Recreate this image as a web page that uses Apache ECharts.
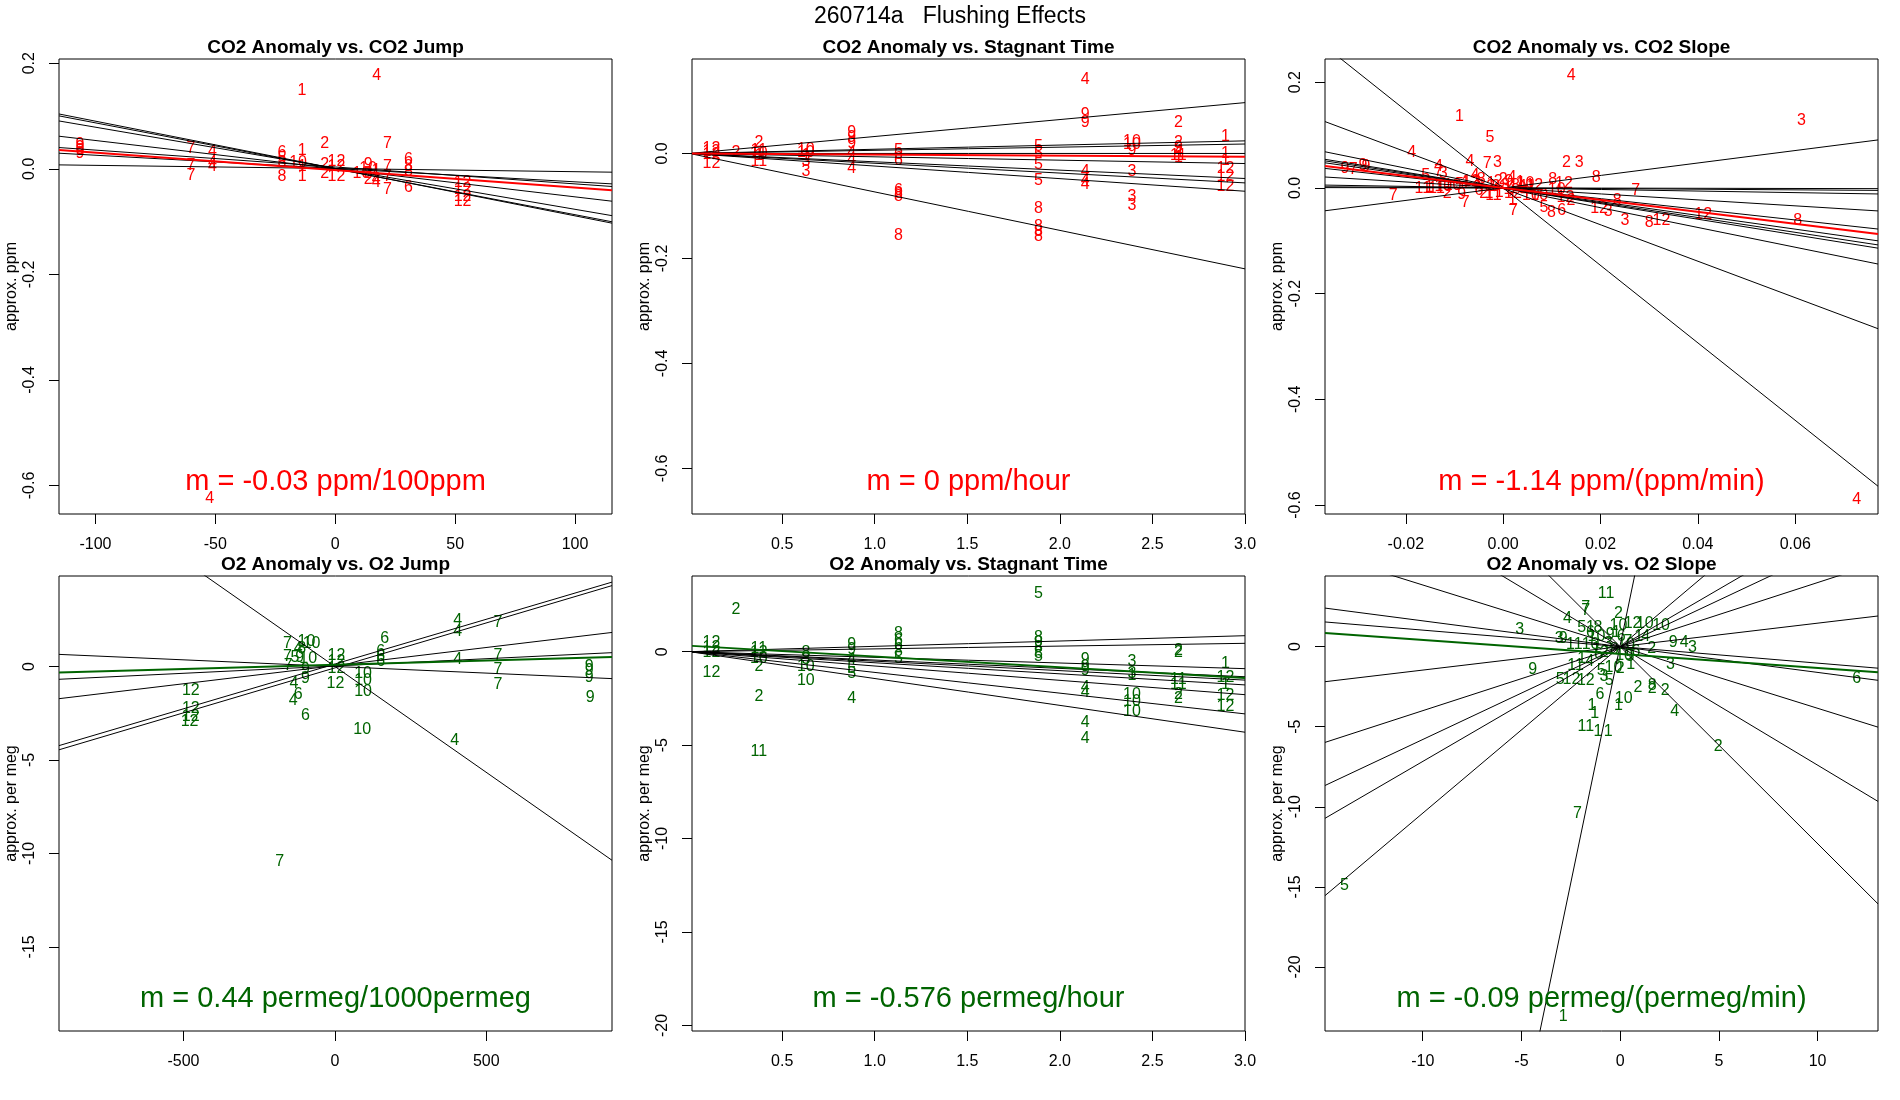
<!DOCTYPE html>
<html>
<head>
<meta charset="utf-8">
<script src="https://cdn.jsdelivr.net/npm/echarts@6/dist/echarts.min.js"></script>
<style>
  html, body { margin: 0; background: #fff; }
  #chart { width: 1900px; height: 1100px; }
</style>
</head>
<body>
<div id="chart"></div>
<script>
const FONT = '"Liberation Sans", Arial, Helvetica, sans-serif';
const RED = '#ff0000';
const GREEN = '#006400';

const mainTitle = '260714a   Flushing Effects';
const titles = ['CO2 Anomaly vs. CO2 Jump', 'CO2 Anomaly vs. Stagnant Time', 'CO2 Anomaly vs. CO2 Slope',
  'O2 Anomaly vs. O2 Jump', 'O2 Anomaly vs. Stagnant Time', 'O2 Anomaly vs. O2 Slope'];
const notes = ['m = -0.03 ppm/100ppm', 'm = 0 ppm/hour', 'm = -1.14 ppm/(ppm/min)',
  'm = 0.44 permeg/1000permeg', 'm = -0.576 permeg/hour', 'm = -0.09 permeg/(permeg/min)'];

// points: [x, anomaly, group]
const co2JumpPts = [
  [-106.5,0.045,9],[-106.5,0.040,9],[-106.5,0.034,9],[-106.5,0.028,9],
  [-60.2,0.039,7],[-60.2,0.006,7],[-60.2,-0.013,7],
  [-51.2,0.033,4],[-51.2,0.011,4],[-51.2,0.004,4],
  [-22.2,0.030,6],[-22.2,0.020,5],[-22.2,0.012,8],[-22.2,-0.015,8],
  [-13.9,0.148,1],[-13.8,0.035,1],[-15.5,0.011,10],[-13.8,0.005,1],[-13.8,-0.015,1],
  [-4.4,0.047,2],[-4.4,0.008,2],[-4.4,-0.010,2],
  [0.5,0.013,12],[0.5,0.004,12],[0.5,-0.015,12],
  [10.9,-0.010,10],[13.7,0.008,9],[13.7,0.000,10],[13.7,-0.010,8],[13.7,-0.020,2],
  [17.1,-0.003,1],[17.1,-0.020,4],[17.1,-0.027,4],
  [21.8,0.048,7],[21.8,0.004,7],[21.8,-0.015,7],[21.8,-0.040,7],
  [30.5,0.017,6],[30.5,0.005,8],[30.5,-0.005,8],[30.5,-0.035,6],
  [53.1,-0.027,12],[53.1,-0.040,12],[53.1,-0.052,12],[53.1,-0.063,12],
  [17.3,0.176,4],[-52.4,-0.624,4]
];
const co2StagPts = [
  [0.118,0.010,12],[0.118,0.004,12],[0.118,-0.002,12],[0.118,-0.020,12],
  [0.25,0.001,2],
  [0.374,0.020,2],[0.374,0.006,11],[0.374,0.000,10],[0.374,-0.005,1],[0.374,-0.016,11],
  [0.628,0.008,10],[0.628,0.002,10],[0.628,-0.005,1],[0.628,-0.015,3],[0.628,-0.035,3],
  [0.875,0.040,9],[0.875,0.030,9],[0.875,0.018,9],[0.875,0.002,4],[0.875,-0.012,4],[0.875,-0.028,4],
  [1.128,0.006,5],[1.128,-0.003,6],[1.128,-0.013,6],[1.128,-0.070,6],[1.128,-0.076,8],[1.128,-0.082,8],[1.128,-0.156,8],
  [1.885,0.013,5],[1.885,0.000,5],[1.885,-0.022,5],[1.885,-0.051,5],[1.885,-0.105,8],[1.885,-0.140,8],[1.885,-0.149,8],[1.885,-0.159,8],
  [2.137,0.141,4],[2.137,0.075,9],[2.137,0.058,9],[2.137,-0.035,4],[2.137,-0.051,4],[2.137,-0.060,4],
  [2.389,0.022,10],[2.389,0.016,10],[2.389,0.006,9],[2.389,-0.035,3],[2.389,-0.083,3],[2.389,-0.100,3],
  [2.64,0.058,2],[2.64,0.020,2],[2.64,0.012,9],[2.64,0.004,4],[2.64,-0.004,11],[2.64,-0.008,1],
  [2.894,0.033,1],[2.894,0.000,1],[2.894,-0.013,1],[2.894,-0.029,12],[2.894,-0.044,12],[2.894,-0.063,12]
];
const co2SlopePts = [
  [0.014,0.212,4],[-0.009,0.135,1],[0.0613,0.127,3],[-0.0027,0.095,5],[-0.0188,0.066,4],[0.0726,-0.589,4],
  [0.0605,-0.061,8],[0.0411,-0.051,12],
  [-0.0325,0.037,9],[-0.0308,0.035,7],[-0.0288,0.043,9],[-0.0282,0.040,9],
  [-0.0226,-0.015,7],
  [-0.0133,0.040,4],[-0.0133,0.031,7],[-0.0123,0.027,3],[-0.0159,0.023,5],
  [-0.0068,0.050,4],[-0.0058,0.024,4],[-0.0033,0.047,7],[-0.0012,0.048,3],
  [0.0130,0.048,2],[0.0156,0.048,3],[0.0191,0.020,8],[0.0272,-0.005,7],[0.0234,-0.023,8],
  [0.0197,-0.040,12],[0.0216,-0.045,3],[0.0250,-0.062,3],[0.0300,-0.066,8],[0.0325,-0.061,12],
  [0.0084,-0.038,5],[0.0099,-0.047,8],[0.0120,-0.042,6],[0.0021,-0.042,7],[0.0019,-0.023,1],
  [0.0139,-0.023,2],[0.0128,-0.018,12],
  [-0.0115,-0.010,2],[-0.0085,-0.012,9],[-0.0078,-0.027,7],
  [-0.0165,-0.001,11],[-0.0152,0.001,1],[-0.0137,-0.002,11],[-0.0123,0.002,10],[-0.0104,0.004,10],
  [-0.0090,0.006,5],[-0.0077,0.008,1],[-0.0066,0.012,12],
  [-0.0055,0.010,3],[-0.0050,-0.005,6],[-0.0045,0.015,8],[-0.0040,-0.010,2],[-0.0035,0.003,12],
  [-0.0029,-0.011,1],[-0.0025,0.008,1],[-0.0020,-0.015,11],[-0.0015,0.002,3],[-0.0010,0.012,2],
  [-0.0008,-0.008,1],[0.0000,0.016,2],[0.0005,0.005,8],[0.0010,-0.004,1],[0.0012,0.012,9],
  [0.0018,0.020,4],[0.0020,-0.010,12],[0.0025,0.004,8],[0.0030,-0.002,10],[0.0035,0.010,1],
  [0.0046,0.009,10],[0.0045,-0.006,4],[0.0050,0.002,11],[0.0057,-0.014,10],[0.0064,0.004,12],
  [0.0074,-0.014,10],[0.0102,0.016,8],[0.0110,-0.003,10],[0.0125,0.009,12]
];
const o2JumpPts = [
  [405.8,2.46,4],[405.8,1.86,4],[405.8,0.37,4],[396,-3.96,4],
  [538,2.36,7],[538,0.56,7],[538,-0.19,7],[538,-0.99,7],
  [839.5,0.0,9],[839.5,-0.22,9],[839.5,-0.6,9],[843,-1.68,9],
  [164.5,1.49,6],[151,0.78,6],[151,0.51,6],[151,0.24,6],
  [5,0.60,12],[5,0.24,12],[5,-0.11,12],[2,-0.92,12],
  [93,-0.38,10],[93,-0.74,10],[93,-1.36,10],[90,-3.39,10],
  [-475.7,-1.27,12],[-475.7,-2.26,12],[-476,-2.7,12],[-480,-2.97,12],
  [-182,-10.42,7],
  [-156.6,1.225,7],[-94,1.315,10],[-77,1.225,10],[-121,0.96,4],[-110,0.95,8],[-157,0.51,7],
  [-132,0.475,5],[-116,0.475,9],[-88,0.42,10],[-154,0.065,7],[-97,-0.17,9],[-97,-0.65,9],
  [-135,-0.92,4],[-121,-1.49,6],[-138,-1.81,4],[-97,-2.61,6]
];
const o2StagPts = [
  [0.251,2.25,2],[1.885,3.12,5],
  [0.118,0.48,12],[0.118,0.2,12],[0.118,-0.07,12],[0.118,-1.10,12],
  [0.374,0.15,11],[0.374,-0.05,12],[0.374,-0.35,10],[0.374,-0.82,2],[0.374,-2.40,2],[0.374,-5.37,11],
  [0.628,-0.07,8],[0.628,-0.45,3],[0.628,-0.82,10],[0.628,-1.56,10],
  [0.875,0.39,9],[0.875,0.11,9],[0.875,-0.45,4],[0.875,-0.91,5],[0.875,-1.15,5],[0.875,-2.49,4],
  [1.128,0.95,8],[1.128,0.6,6],[1.128,0.3,6],[1.128,0.0,8],[1.128,-0.35,5],
  [1.885,0.76,8],[1.885,0.5,9],[1.885,0.2,8],[1.885,-0.1,8],[1.885,-0.26,5],
  [2.137,-0.45,9],[2.137,-0.8,9],[2.137,-1.0,9],[2.137,-1.90,4],[2.137,-2.17,4],[2.137,-3.79,4],[2.137,-4.63,4],
  [2.389,-0.54,3],[2.389,-1.19,3],[2.389,-1.30,1],[2.389,-2.30,10],[2.389,-2.68,10],[2.389,-3.23,10],
  [2.64,0.07,2],[2.64,-0.04,2],[2.64,-1.47,11],[2.64,-1.75,11],[2.64,-2.30,2],[2.64,-2.49,2],
  [2.894,-0.63,1],[2.894,-1.38,12],[2.894,-1.75,1],[2.894,-2.36,12],[2.894,-2.96,12]
];
const o2SlopePts = [
  [-0.71,3.32,11],[-1.74,2.41,7],[-1.74,2.23,7],[-0.09,2.08,2],[-2.67,1.76,4],[-5.09,1.04,3],
  [-3.09,0.52,3],[-2.88,0.52,9],[-2.32,0.13,11],[-4.43,-1.43,9],[-3.04,-2.04,5],[-2.47,-2.04,12],
  [-1.74,-2.15,12],[-13.96,-14.95,5],[-2.16,-10.43,7],[-2.88,-23.08,1],[11.98,-1.97,6],[4.96,-6.27,2],
  [2.76,-4.06,4],[2.28,-2.75,2],[1.62,-2.45,8],[1.62,-2.65,2],[0.90,-2.58,2],[0.18,-3.23,10],
  [-0.09,-3.71,1],[-1.02,-3.02,6],[-1.43,-3.67,1],[-1.29,-4.21,1],[-1.74,-4.97,11],[-1.12,-5.29,1],
  [-0.61,-5.29,1],[2.69,0.24,9],[3.25,0.24,4],[3.66,-0.09,3],[2.55,-1.11,3],[1.60,-0.15,2],
  [2.07,1.32,10],[1.25,1.43,10],[0.63,1.43,12],[-0.09,1.32,10],[-1.95,1.21,5],[-1.12,1.21,8],
  [-1.5,1.21,1],[0.94,0.63,1],[1.3,0.6,4],[-0.96,-1.50,5],[-0.34,-1.32,10],[0.0,-1.40,2],
  [0.53,-1.11,1],[-0.55,-2.15,5],[-0.82,-1.89,3],[-2.26,-1.17,11],[-1.95,-0.74,1],[-1.54,-0.95,4],
  [-1.5,0.85,6],[-1.2,0.6,10],[-0.5,0.75,9],[-0.2,0.9,1],[0.05,0.6,6],[-1.5,0.1,10],[-1.2,-0.1,1],
  [0.3,0.1,10],[-1.1,-0.5,6],[-0.8,-0.4,2],[0.2,-0.55,10],[0.5,-0.6,5],[0.8,-0.3,6],[-0.3,-0.2,8],
  [0.4,0.3,7],[-0.6,0.2,3]
];

// per-group regression lines: intercepts and slopes; fit = [intercept, slope]
const co2JumpInts = [0.0005, 0, 0.001, 0.0002, 0.0034, 0.0005, 0.0005];
const co2JumpSlopes = [-0.000897, -0.00087, -0.000778, -0.000534, -0.00032, -0.000252, -0.00006];
const co2JumpFit = [-0.0024, -0.00033];
const co2StagInts = [0, 0, 0, 0, 0, 0, 0, 0, 0];
const co2StagSlopes = [0.0323, 0.008, 0.006, 0.0, -0.0064, -0.0159, -0.0187, -0.024, -0.0733];
const co2StagFit = [0, -0.0021];
const co2SlopeInts = [0, -0.0007, 0, 0, 0, 0, 0, 0, 0, 0, 0, 0];
const co2SlopeSlopes = [-7.33, -3.45, -1.87, -1.48, -1.40, -1.30, -1.01, -0.565, -0.148, -0.06, -0.017, 1.18];
const co2SlopeFit = [0, -1.13];
const o2JumpInts = [0, 0.13, -0.075, 0.045, 0.025, 0];
const o2JumpSlopes = [-0.01133, 0.00479, 0.00481, 0.00194, 0.00078, -0.00071];
const o2JumpFit = [0.09, 0.00045];
const o2StagInts = [0, 0, 0, 0, 0, 0, 0, 0, 0];
const o2StagSlopes = [0.285, 0.149, -0.303, -0.447, -0.507, -0.593, -0.767, -1.11, -1.437];
const o2StagFit = [0.318, -0.576];
const o2SlopeInts = [0.08, 0, 0, 0, 0, 0, 0, 0, 0, 0, 0];
const o2SlopeSlopes = [5.93, -0.385, -0.74, -1.23, -0.161, -0.103, 0.1465, 0.40, 0.58, 0.717, 1.04];
const o2SlopeFit = [-0.46, -0.0875];

// tick values
const co2JumpXTicks = [-100, -50, 0, 50, 100];
const stagXTicks = [0.5, 1.0, 1.5, 2.0, 2.5, 3.0];
const co2SlopeXTicks = [-0.02, 0, 0.02, 0.04, 0.06];
const co2YTicks = [-0.6, -0.4, -0.2, 0, 0.2];
const co2StagYTicks = [-0.6, -0.4, -0.2, 0];
const o2JumpXTicks = [-500, 0, 500];
const o2SlopeXTicks = [-10, -5, 0, 5, 10];
const o2JumpYTicks = [-15, -10, -5, 0];
const o2YTicks = [-20, -15, -10, -5, 0];

const panels = [
  { pts: co2JumpPts, ints: co2JumpInts, slopes: co2JumpSlopes, fit: co2JumpFit, color: RED, ylab: 'approx. ppm',
    xr: [-115.2, 115.4], yr: [-0.654, 0.208], xt: co2JumpXTicks, yt: co2YTicks, xd: 0, yd: 1 },
  { pts: co2StagPts, ints: co2StagInts, slopes: co2StagSlopes, fit: co2StagFit, color: RED, ylab: 'approx. ppm',
    xr: [0.013, 3.0], yr: [-0.687, 0.180], xt: stagXTicks, yt: co2StagYTicks, xd: 1, yd: 1 },
  { pts: co2SlopePts, ints: co2SlopeInts, slopes: co2SlopeSlopes, fit: co2SlopeFit, color: RED, ylab: 'approx. ppm',
    xr: [-0.0366, 0.077], yr: [-0.617, 0.244], xt: co2SlopeXTicks, yt: co2YTicks, xd: 2, yd: 1 },
  { pts: o2JumpPts, ints: o2JumpInts, slopes: o2JumpSlopes, fit: o2JumpFit, color: GREEN, ylab: 'approx. per meg',
    xr: [-911, 915], yr: [-19.5, 4.84], xt: o2JumpXTicks, yt: o2JumpYTicks, xd: 0, yd: 0 },
  { pts: o2StagPts, ints: o2StagInts, slopes: o2StagSlopes, fit: o2StagFit, color: GREEN, ylab: 'approx. per meg',
    xr: [0.013, 3.0], yr: [-20.3, 4.05], xt: stagXTicks, yt: o2YTicks, xd: 1, yd: 0 },
  { pts: o2SlopePts, ints: o2SlopeInts, slopes: o2SlopeSlopes, fit: o2SlopeFit, color: GREEN, ylab: 'approx. per meg',
    xr: [-14.95, 13.06], yr: [-24.0, 4.41], xt: o2SlopeXTicks, yt: o2YTicks, xd: 0, yd: 0 }
];

const colLeft = [59, 692, 1325];
const rowTop = [59, 576];
const boxW = 553, boxH = 455;

const grid = [], xAxis = [], yAxis = [], series = [];
const graphic = [{
  type: 'text', x: 950, y: 17,
  style: { text: mainTitle, font: '23px ' + FONT, fill: '#000', align: 'center', verticalAlign: 'middle' }
}];

function lineData(p, a, b) {
  return [[p.xr[0], a + b * p.xr[0]], [p.xr[1], a + b * p.xr[1]]];
}

panels.forEach((p, i) => {
  const left = colLeft[i % 3];
  const top = rowTop[Math.floor(i / 3)];
  grid.push({ left: left, top: top, width: boxW, height: boxH, show: true,
    borderColor: '#000', borderWidth: 1, backgroundColor: 'transparent' });
  xAxis.push({
    type: 'value', gridIndex: i, min: p.xr[0], max: p.xr[1], position: 'bottom',
    axisLine: { show: false, onZero: false }, splitLine: { show: false },
    axisTick: { show: true, length: 10, customValues: p.xt, lineStyle: { color: '#000' } },
    axisLabel: { customValues: p.xt, formatter: v => v.toFixed(p.xd), fontSize: 16,
      fontFamily: FONT, color: '#000', margin: 23 }
  });
  yAxis.push({
    type: 'value', gridIndex: i, min: p.yr[0], max: p.yr[1], position: 'left',
    axisLine: { show: false, onZero: false }, splitLine: { show: false },
    axisTick: { show: true, length: 10, customValues: p.yt, lineStyle: { color: '#000' } },
    axisLabel: { customValues: p.yt, formatter: v => v.toFixed(p.yd), fontSize: 16, rotate: 90,
      fontFamily: FONT, color: '#000', margin: 21 },
    name: p.ylab, nameLocation: 'middle', nameGap: 39,
    nameTextStyle: { fontSize: 16, fontFamily: FONT, color: '#000' }
  });
  series.push({
    type: 'custom', xAxisIndex: i, yAxisIndex: i, data: p.pts, encode: { x: 0, y: 1 }, z: 2,
    renderItem: (params, api) => {
      const c = api.coord([api.value(0), api.value(1)]);
      return { type: 'text', x: c[0], y: c[1],
        style: { text: String(api.value(2)), font: '16px ' + FONT, fill: p.color,
          align: 'center', verticalAlign: 'middle' } };
    }
  });
  p.slopes.forEach((b, k) => {
    series.push({ type: 'line', xAxisIndex: i, yAxisIndex: i, data: lineData(p, p.ints[k], b),
      symbol: 'none', clip: true, z: 3, lineStyle: { color: '#000', width: 1 } });
  });
  series.push({ type: 'line', xAxisIndex: i, yAxisIndex: i, data: lineData(p, p.fit[0], p.fit[1]),
    symbol: 'none', clip: true, z: 4, lineStyle: { color: p.color, width: 2 } });

  graphic.push({ type: 'text', x: left + boxW / 2, y: top - 11,
    style: { text: titles[i], font: 'bold 19px ' + FONT, fill: '#000', align: 'center', verticalAlign: 'middle' } });
  graphic.push({ type: 'text', x: left + boxW / 2, y: top + boxH - 32, z: 10,
    style: { text: notes[i], font: '29px ' + FONT, fill: p.color, align: 'center', verticalAlign: 'middle' } });
});

const chart = echarts.init(document.getElementById('chart'));
chart.setOption({
  animation: false,
  backgroundColor: '#fff',
  grid: grid,
  xAxis: xAxis,
  yAxis: yAxis,
  series: series,
  graphic: graphic
});
</script>
</body>
</html>
